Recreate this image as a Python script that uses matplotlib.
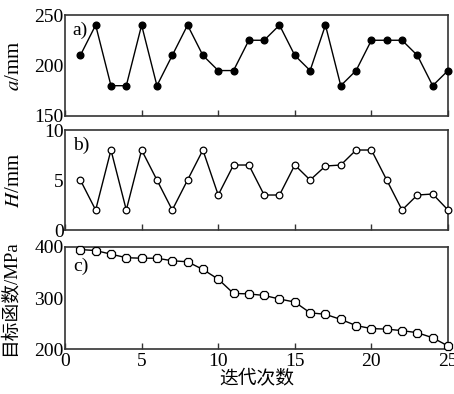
import matplotlib
matplotlib.use('Agg')
import matplotlib.pyplot as plt

plt.rcParams['font.family'] = ['Liberation Serif', 'Noto Sans CJK SC']
plt.rcParams['mathtext.fontset'] = 'stix'

# iteration numbers and values
iters = list(range(1, 26))
a_vals = [210, 240, 180, 180, 240, 180, 210, 240, 210, 195, 195, 225, 225,
          240, 210, 195, 240, 180, 195, 225, 225, 225, 210, 180, 195]
h_vals = [5, 2, 8, 2, 8, 5, 2, 5, 8, 3.5, 6.5, 6.5, 3.5, 3.5, 6.5, 5, 6.4,
          6.5, 8, 8, 5, 2, 3.5, 3.6, 2]
obj_vals = [395, 393, 386, 379, 378, 378, 373, 371, 356, 337, 309, 308, 305,
            298, 292, 271, 268, 258, 246, 240, 239, 236, 232, 222, 206]

fig = plt.figure(figsize=(4.54, 3.94), dpi=100)
ax1 = fig.add_axes([0.1432, 0.7056, 0.8436, 0.2563])
ax2 = fig.add_axes([0.1432, 0.4162, 0.8436, 0.2538])
ax3 = fig.add_axes([0.1432, 0.1142, 0.8436, 0.2589])

ax1.plot(iters, a_vals, color='black', lw=1, marker='o', ms=4.8,
         mfc='black', mec='black', clip_on=False, zorder=3)
ax2.plot(iters, h_vals, color='black', lw=1, marker='o', ms=4.8,
         mfc='white', mec='black', mew=0.9, clip_on=False, zorder=3)
ax3.plot(iters, obj_vals, color='black', lw=1, marker='8', ms=5.8,
         mfc='white', mec='black', mew=0.9, clip_on=False, zorder=3)

ax1.set_ylim(150, 250)
ax1.set_yticks([150, 200, 250])
ax2.set_ylim(0, 10)
ax2.set_yticks([0, 5, 10])
ax3.set_ylim(200, 400)
ax3.set_yticks([200, 300, 400])

for ax in (ax1, ax2, ax3):
    ax.set_xlim(0, 25)
    ax.set_xticks([0, 5, 10, 15, 20, 25])
    ax.tick_params(axis='x', direction='in', length=4, width=1,
                   color='#333333', labelsize=14, pad=3)
    ax.tick_params(axis='y', length=0, labelsize=14, pad=1)
    for s in ax.spines.values():
        s.set_linewidth(1.2)
        s.set_color('#333333')

ax1.tick_params(axis='x', labelbottom=False)
ax2.tick_params(axis='x', labelbottom=False)

ax1.set_ylabel('$a$/mm', fontsize=15)
ax2.set_ylabel('$H$/mm', fontsize=15)
ax3.set_ylabel('目标函数/MPa', fontsize=13.5)
ax1.yaxis.set_label_coords(-0.108, 0.5)
ax2.yaxis.set_label_coords(-0.108, 0.5)
ax3.yaxis.set_label_coords(-0.122, 0.5)
ax3.set_xlabel('迭代次数', fontsize=13.5, labelpad=0)

ax1.text(0.02, 0.93, 'a)', transform=ax1.transAxes, fontsize=14, va='top')
ax2.text(0.02, 0.93, 'b)', transform=ax2.transAxes, fontsize=14, va='top')
ax3.text(0.022, 0.9, 'c)', transform=ax3.transAxes, fontsize=14, va='top')

fig.savefig('out.png', dpi=100)
